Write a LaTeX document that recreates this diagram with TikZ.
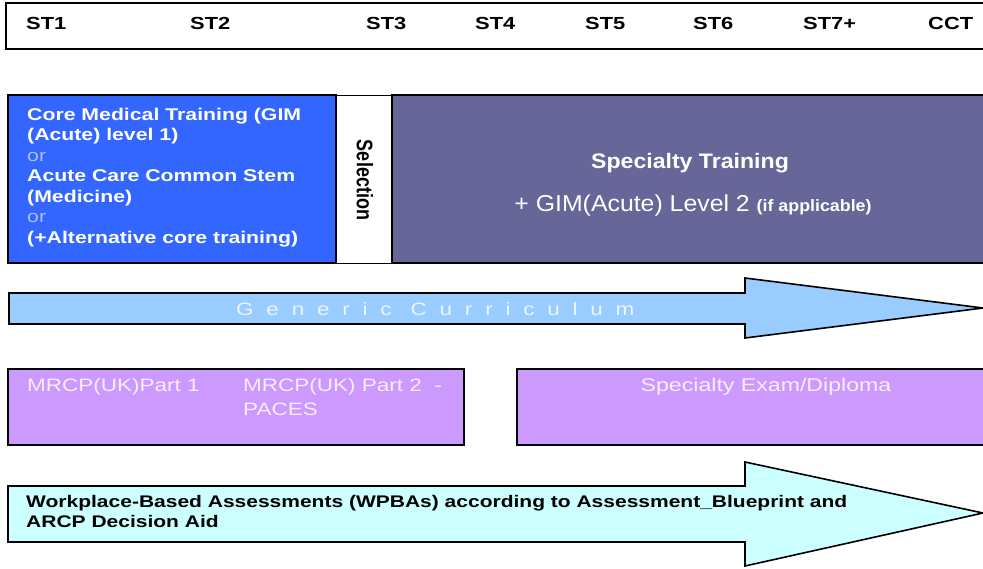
\documentclass[tikz,border=0pt]{standalone}
\usepackage{fontspec}
\setmainfont{Liberation Sans}[FakeStretch=1.25]
\newfontfamily\plainsans{Liberation Sans}
\newfontfamily\spacedsans{Liberation Sans}[FakeStretch=1.25,LetterSpace=71]
\definecolor{coreblue}{HTML}{3366FF}
\definecolor{orblue}{HTML}{AABEFF}
\definecolor{specpurple}{HTML}{666699}
\definecolor{genblue}{HTML}{99CCFF}
\definecolor{gentext}{HTML}{EEF4FF}
\definecolor{exampink}{HTML}{CC99FF}
\definecolor{examtext}{HTML}{F6EEFF}
\definecolor{wpbacyan}{HTML}{CCFFFF}
\tikzset{
  boxline/.style={draw=black, line width=1.6pt},
  lbl/.style={inner sep=0pt, anchor=base west},
  stlbl/.style={lbl, font=\fontsize{17.5}{20}\selectfont\bfseries},
}
\begin{document}
\begin{tikzpicture}[x=1pt,y=-1pt]
\clip (0,0) rectangle (983,568);
\fill[white] (0,0) rectangle (983,568);
% top stage bar
\draw[boxline, line width=2pt] (6,3) rectangle (995,49);
\node[stlbl] (st1) at (26,29.5) {ST1};
\node[stlbl] (st2) at (190,29.5) {ST2};
\node[stlbl] (st3) at (366,29.5) {ST3};
\node[stlbl] (st4) at (475,29.5) {ST4};
\node[stlbl] (st5) at (585,29.5) {ST5};
\node[stlbl] (st6) at (693,29.5) {ST6};
\node[stlbl] (st7) at (803,29.5) {ST7+};
\node[stlbl] (cct) at (928,29.5) {CCT};
% training boxes
\draw[boxline, fill=coreblue] (8,95) rectangle (336,263);
\draw[boxline, fill=white, line width=1pt] (336,95) rectangle (392,263);
\draw[boxline, fill=specpurple] (392,95) rectangle (995,263);
\node[inner sep=0pt, anchor=north west, align=left, text=white,
      font=\fontsize{17}{20.5}\selectfont\bfseries] (core) at (27,107.5)
  {Core Medical Training (GIM\\
   (Acute) level 1)\\
   {\mdseries\color{orblue}or}\\
   Acute Care Common Stem\\
   (Medicine)\\
   {\mdseries\color{orblue}or}\\
   (+Alternative core training)};
\node[inner sep=0pt, rotate=-90] (sel) at (365,180)
  {\scalebox{1}[1.25]{\plainsans\fontsize{18}{20}\selectfont\bfseries Selection}};
\node[inner sep=0pt, anchor=base, text=white] (spec) at (690,168)
  {\scalebox{1.1}[1]{\plainsans\fontsize{21}{24}\selectfont\bfseries Specialty Training}};
\node[inner sep=0pt, anchor=base, text=white] (gim) at (693,211.5)
  {\scalebox{1.08}[1]{\plainsans\fontsize{23}{26}\selectfont
   + GIM(Acute) Level 2 {\fontsize{16.5}{18}\selectfont\bfseries(if applicable)}}};
% generic curriculum arrow
\draw[boxline, fill=genblue] (9,293) -- (745,293) -- (745,278) -- (983,308)
  -- (745,338) -- (745,324) -- (9,324) -- cycle;
\node[lbl, text=gentext, font=\spacedsans\fontsize{18}{20}\selectfont] (gen) at (236,315)
  {Generic Curriculum};
% exams
\draw[boxline, fill=exampink] (8,369) rectangle (464,445);
\draw[boxline, fill=exampink] (517,369) rectangle (995,445);
\node[lbl, text=examtext, font=\fontsize{18}{24}\selectfont] (mrcp1) at (27,391) {MRCP(UK)Part 1};
\node[inner sep=0pt, anchor=north west, align=left, text=examtext,
      font=\fontsize{18}{24}\selectfont] (mrcp2) at (243,378)
  {MRCP(UK) Part 2\ \ -\\PACES};
\node[inner sep=0pt, anchor=base, text=examtext, font=\fontsize{18.5}{22}\selectfont]
  (sexam) at (766,391) {Specialty Exam/Diploma};
% WPBA arrow
\draw[boxline, fill=wpbacyan] (8,486) -- (745,486) -- (745,462) -- (983,513)
  -- (745,566) -- (745,542) -- (8,542) -- cycle;
\node[inner sep=0pt, anchor=north west, align=left,
      font=\fontsize{16.8}{19.5}\selectfont\bfseries] (wpba) at (26,495.5)
  {Workplace-Based Assessments (WPBAs) according to Assessment\_Blueprint and\\
   ARCP Decision Aid};
\end{tikzpicture}
\end{document}
